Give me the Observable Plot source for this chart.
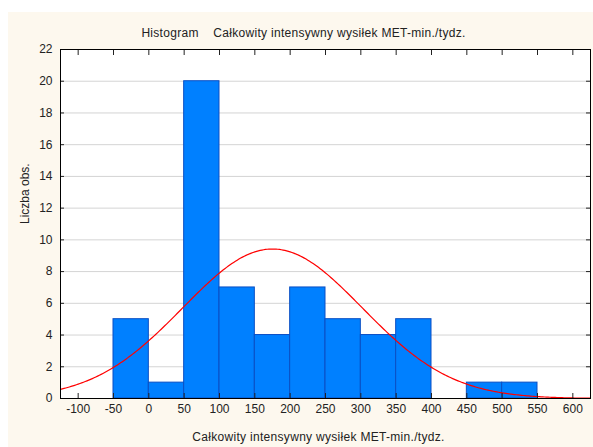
<!DOCTYPE html>
<html>
<head>
<meta charset="utf-8">
<script src="https://cdn.jsdelivr.net/npm/d3@7"></script>
<script src="https://cdn.jsdelivr.net/npm/@observablehq/plot@0.6"></script>
<style>
  html, body { margin: 0; padding: 0; background: #ffffff; }
  #bg { position: absolute; left: 8px; top: 12px; width: 585px; height: 435px; background: #fdf8ee; }
  #chart { position: absolute; left: 0; top: 0; }
  #chart svg { background: transparent !important; }
  .ttl text, .xlab text { letter-spacing: 0.3px; white-space: pre; }
</style>
</head>
<body>
<div id="bg"></div>
<div id="chart"></div>
<script>
// Bin edges (lower, upper) and counts
const binLower = [-50, 0, 50, 100, 150, 200, 250, 300, 350, 400, 450, 500];
const binUpper = [0, 50, 100, 150, 200, 250, 300, 350, 400, 450, 500, 550];
const counts   = [5, 1, 20, 7, 4, 7, 5, 4, 5, 0, 1, 1];
const xTicks = [-100, -50, 0, 50, 100, 150, 200, 250, 300, 350, 400, 450, 500, 550, 600];
const yTicks = [0, 2, 4, 6, 8, 10, 12, 14, 16, 18, 20, 22];
// Fitted normal curve parameters
const fitMean = 175;
const fitSd = 127;
const binWidth = 50;

const titleText = "Histogram    Całkowity intensywny wysiłek MET-min./tydz.";
const xLabel = "Całkowity intensywny wysiłek MET-min./tydz.";
const yLabel = "Liczba obs.";

const bars = binLower.map((lo, i) => ({x1: lo, x2: binUpper[i], y: counts[i]})).filter(d => d.y > 0);
const total = d3.sum(counts);
const curveX = d3.range(-125, 625.1, 2.5);
const curve = curveX.map(x => ({
  x,
  y: total * binWidth / (fitSd * Math.sqrt(2 * Math.PI)) * Math.exp(-0.5 * ((x - fitMean) / fitSd) ** 2)
}));

const font = "Liberation Sans, Arial, sans-serif";
const fmt = d => String(d);

const chart = Plot.plot({
  width: 593,
  height: 447,
  marginLeft: 60,
  marginRight: 3,
  marginTop: 49,
  marginBottom: 49,
  style: {fontFamily: font, fontSize: "12px", color: "#222", background: "transparent"},
  x: {domain: [-125, 625], label: null},
  y: {domain: [0, 22], label: null},
  marks: [
    Plot.frame({fill: "white", stroke: "none"}),
    Plot.gridY(yTicks, {stroke: "#d4d4d4", strokeOpacity: 1, strokeWidth: 1}),
    Plot.rectY(bars, {x1: "x1", x2: "x2", y: "y", fill: "#0080ff", stroke: "#0a4fc4", strokeWidth: 1}),
    Plot.line(curve, {x: "x", y: "y", stroke: "#ff0000", strokeWidth: 1.2, clip: true}),
    Plot.axisX(xTicks, {anchor: "bottom", tickSize: -5, tickPadding: 11, fontSize: 12, fill: "#222", tickFormat: fmt}),
    Plot.axisX(xTicks, {anchor: "top", tickSize: -5, tickFormat: () => ""}),
    Plot.axisY(yTicks, {anchor: "left", tickSize: -4, tickPadding: 12, fontSize: 12, fill: "#222", tickFormat: fmt}),
    Plot.axisY(yTicks, {anchor: "right", tickSize: -5, tickFormat: () => ""}),
    Plot.frame({stroke: "#000", strokeWidth: 1}),
    Plot.text([titleText], {frameAnchor: "top", dx: -22, dy: -21, fontSize: 12, fill: "#222", className: "ttl"}),
    Plot.text([xLabel], {frameAnchor: "bottom", dx: -7, dy: 42, fontSize: 12, fill: "#222", className: "xlab"}),
    Plot.text([yLabel], {frameAnchor: "left", rotate: -90, dx: -35, dy: 0, fontSize: 12, fill: "#222"})
  ]
});
document.getElementById("chart").appendChild(chart);
</script>
</body>
</html>
